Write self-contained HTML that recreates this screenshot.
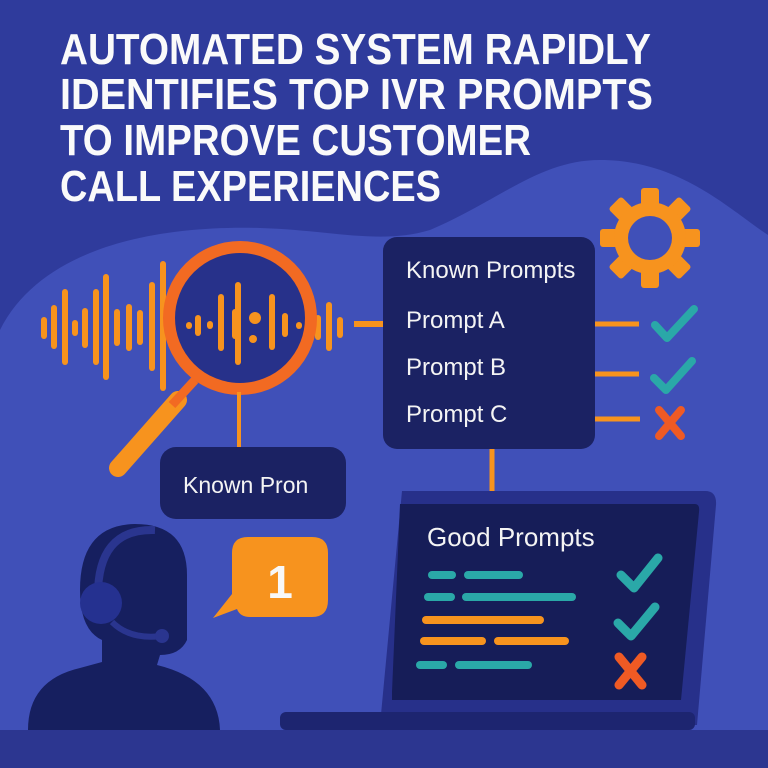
<!DOCTYPE html>
<html><head><meta charset="utf-8"><style>html,body{margin:0;padding:0;background:#2f3b9c}svg{display:block}</style></head>
<body>
<svg width="768" height="768" viewBox="0 0 768 768" xmlns="http://www.w3.org/2000/svg">
<rect width="768" height="768" fill="#2f3b9c"/>
<path d="M0 330 C40 250 150 225 260 228 C330 230 380 245 430 230 C500 200 540 160 600 160 C680 160 730 210 768 235 L768 768 L0 768 Z" fill="#4050b8"/>
<rect x="0" y="730" width="768" height="38" fill="#2c3690"/>
<g font-family="'Liberation Sans',sans-serif" font-weight="bold" fill="#fafafa" font-size="44">
<text x="60" y="64" textLength="591" lengthAdjust="spacingAndGlyphs">AUTOMATED SYSTEM RAPIDLY</text>
<text x="60" y="109" textLength="593" lengthAdjust="spacingAndGlyphs">IDENTIFIES TOP IVR PROMPTS</text>
<text x="60" y="155" textLength="471" lengthAdjust="spacingAndGlyphs">TO IMPROVE CUSTOMER</text>
<text x="60" y="201" textLength="381" lengthAdjust="spacingAndGlyphs">CALL EXPERIENCES</text>
</g>
<!-- gear -->
<g transform="translate(650,238)" fill="#f7931e">
<g id="t"><rect x="-9" y="-50" width="18" height="22" rx="3"/></g>
<use href="#t" transform="rotate(45)"/><use href="#t" transform="rotate(90)"/><use href="#t" transform="rotate(135)"/><use href="#t" transform="rotate(180)"/><use href="#t" transform="rotate(225)"/><use href="#t" transform="rotate(270)"/><use href="#t" transform="rotate(315)"/>
<circle r="36"/>
<circle r="22" fill="#4050b8"/>
</g>
<!-- waveform -->
<g stroke="#f7931e" stroke-width="6" stroke-linecap="round">
<line x1="44" y1="320" x2="44" y2="336"/><line x1="54" y1="308" x2="54" y2="346"/><line x1="65" y1="292" x2="65" y2="362"/><line x1="75" y1="323" x2="75" y2="333"/><line x1="85" y1="311" x2="85" y2="345"/><line x1="96" y1="292" x2="96" y2="362"/><line x1="106" y1="277" x2="106" y2="377"/><line x1="117" y1="312" x2="117" y2="343"/><line x1="129" y1="307" x2="129" y2="348"/><line x1="140" y1="313" x2="140" y2="342"/><line x1="152" y1="285" x2="152" y2="368"/><line x1="163" y1="264" x2="163" y2="388"/>
<line x1="318" y1="318" x2="318" y2="337"/><line x1="329" y1="305" x2="329" y2="348"/><line x1="340" y1="320" x2="340" y2="335"/>
<line x1="354" y1="324" x2="384" y2="324" stroke-linecap="butt"/>
</g>
<!-- magnifier -->
<line x1="178" y1="400" x2="118" y2="468" stroke="#f7931e" stroke-width="18" stroke-linecap="round"/>
<line x1="195" y1="380" x2="172" y2="405" stroke="#f26a22" stroke-width="9"/>
<circle cx="240" cy="318" r="71" fill="#27318a" stroke="#f26a22" stroke-width="12"/>
<g stroke="#f7931e" stroke-width="6" stroke-linecap="round">
<line x1="189" y1="325" x2="189" y2="326"/><line x1="198" y1="318" x2="198" y2="333"/><line x1="210" y1="324" x2="210" y2="326"/><line x1="221" y1="297" x2="221" y2="348"/><line x1="235" y1="312" x2="235" y2="336"/><line x1="238" y1="285" x2="238" y2="362"/><line x1="272" y1="297" x2="272" y2="347"/><line x1="285" y1="316" x2="285" y2="334"/><line x1="299" y1="325" x2="299" y2="326"/>
</g>
<circle cx="255" cy="318" r="6" fill="#f7931e"/><circle cx="253" cy="339" r="4" fill="#f7931e"/>
<!-- connector to left box -->
<line x1="239" y1="392" x2="239" y2="448" stroke="#f7931e" stroke-width="4"/>
<rect x="160" y="447" width="186" height="72" rx="16" fill="#1b2263"/>
<text x="183" y="493" font-family="'Liberation Sans',sans-serif" font-size="23" fill="#f4f4f4">Known Pron</text>
<!-- known prompts box -->
<rect x="383" y="237" width="212" height="212" rx="14" fill="#1b2263"/>
<g font-family="'Liberation Sans',sans-serif" font-size="24" fill="#f4f4f4">
<text x="406" y="278">Known Prompts</text>
<text x="406" y="328">Prompt A</text>
<text x="406" y="375">Prompt B</text>
<text x="406" y="422">Prompt C</text>
</g>
<g stroke="#f7931e" stroke-width="5">
<line x1="595" y1="324" x2="639" y2="324"/><line x1="595" y1="374" x2="639" y2="374"/><line x1="595" y1="419" x2="640" y2="419"/>
<line x1="492" y1="449" x2="492" y2="492"/>
</g>
<g fill="none" stroke-linecap="round" stroke-linejoin="round" stroke-width="8">
<polyline points="655,325 667,338 694,309" stroke="#2aa8a8"/>
<polyline points="654,378 666,390 692,361" stroke="#2aa8a8"/>
<path d="M659 410 L681 436 M681 410 L659 436" stroke="#ef5a24"/>
</g>
<!-- laptop -->
<path d="M402 491 L705 491 Q717 491 716 505 L697 725 L380 725 Z" fill="#27308a"/>
<rect x="280" y="712" width="415" height="18" rx="6" fill="#1d2570"/>
<path d="M400 504 L695 504 Q700 504 699 512 L681 700 L392 700 Q392 700 392 692 Z" fill="#161d58"/>
<text x="427" y="546" font-family="'Liberation Sans',sans-serif" font-size="26" fill="#f4f4f4">Good Prompts</text>
<g stroke-width="8" stroke-linecap="round">
<line x1="432" y1="575" x2="452" y2="575" stroke="#2aa8a8"/><line x1="468" y1="575" x2="519" y2="575" stroke="#2aa8a8"/>
<line x1="428" y1="597" x2="451" y2="597" stroke="#2aa8a8"/><line x1="466" y1="597" x2="572" y2="597" stroke="#2aa8a8"/>
<line x1="426" y1="620" x2="540" y2="620" stroke="#f7931e"/>
<line x1="424" y1="641" x2="482" y2="641" stroke="#f7931e"/><line x1="498" y1="641" x2="565" y2="641" stroke="#f7931e"/>
<line x1="420" y1="665" x2="443" y2="665" stroke="#2aa8a8"/><line x1="459" y1="665" x2="528" y2="665" stroke="#2aa8a8"/>
</g>
<g fill="none" stroke-linecap="round" stroke-linejoin="round" stroke-width="9">
<polyline points="621,575 634,588 658,558" stroke="#2aa8a8"/>
<polyline points="618,623 631,636 655,607" stroke="#2aa8a8"/>
<path d="M619 657 L642 685 M642 657 L619 685" stroke="#ef5a24"/>
</g>
<!-- person -->
<path d="M28 730 Q28 680 80 668 L102 662 L102 640 Q80 630 80 590 Q80 525 135 524 Q187 524 187 575 L187 640 Q180 655 160 655 L157 665 Q218 680 220 730 Z" fill="#161f5f"/>
<path d="M98 600 Q96 528 155 530" fill="none" stroke="#2a358f" stroke-width="8"/>
<circle cx="101" cy="603" r="21" fill="#253190"/>
<path d="M112 622 Q130 640 162 636" fill="none" stroke="#2a358f" stroke-width="6"/>
<circle cx="162" cy="636" r="7" fill="#2a358f"/>
<!-- bubble -->
<path d="M248 537 L312 537 Q328 537 328 553 L328 600 Q328 617 312 617 L250 617 Q240 617 237 609 L213 618 L232 594 L232 553 Q232 537 248 537 Z" fill="#f7931e"/>
<text x="280" y="598" text-anchor="middle" font-family="'Liberation Sans',sans-serif" font-weight="bold" font-size="46" fill="#f8f8f8">1</text>
</svg>
</body></html>
